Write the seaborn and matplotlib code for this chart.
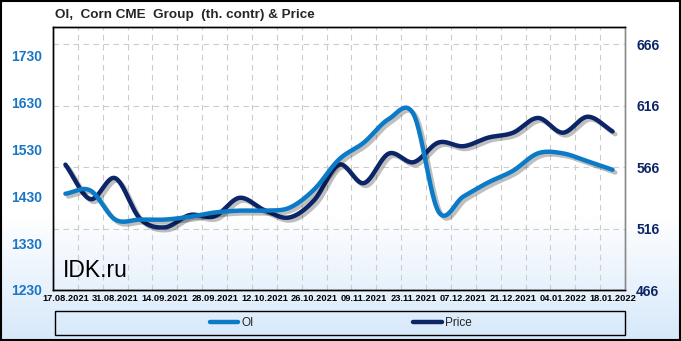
import numpy as np
import pandas as pd
import matplotlib
matplotlib.use("Agg")
import matplotlib.pyplot as plt
import matplotlib.patheffects as pe
from matplotlib.patches import Rectangle
from matplotlib.lines import Line2D
import seaborn as sns

# ---- data (weekly) ----
dates = ["17.08.2021", "24.08.2021", "31.08.2021", "07.09.2021", "14.09.2021", "21.09.2021",
         "28.09.2021", "05.10.2021", "12.10.2021", "19.10.2021", "26.10.2021", "02.11.2021",
         "09.11.2021", "16.11.2021", "23.11.2021", "30.11.2021", "07.12.2021", "14.12.2021",
         "21.12.2021", "28.12.2021", "04.01.2022", "11.01.2022", "18.01.2022"]
oi = [1435, 1442, 1380, 1380, 1380, 1386, 1395, 1399, 1399, 1405, 1444, 1508,
      1544, 1594, 1604, 1397, 1429, 1459, 1484, 1521, 1521, 1504, 1486]
price = [568, 540, 557, 524, 517, 527, 526, 541, 531, 525, 539, 568,
         553, 577, 570, 586, 583, 590, 594, 606, 594, 607, 595]
left_ticks = [1230, 1330, 1430, 1530, 1630, 1730]
right_ticks = [466, 516, 566, 616, 666]

OI_COLOR = "#0b7bc8"
PRICE_COLOR = "#0c2566"


def smooth(y, n=24):
    """Catmull-Rom rendering of a series (Excel-style smoothed line)."""
    y = np.asarray(y, float)
    p = np.concatenate([[2 * y[0] - y[1]], y, [2 * y[-1] - y[-2]]])
    xs, ys = [], []
    t = np.linspace(0, 1, n, endpoint=False)
    for i in range(len(y) - 1):
        p0, p1, p2, p3 = p[i], p[i + 1], p[i + 2], p[i + 3]
        seg = 0.5 * ((2 * p1) + (-p0 + p2) * t + (2 * p0 - 5 * p1 + 4 * p2 - p3) * t ** 2
                     + (-p0 + 3 * p1 - 3 * p2 + p3) * t ** 3)
        xs.append(i + t)
        ys.append(seg)
    xs.append([len(y) - 1])
    ys.append([y[-1]])
    return np.concatenate(xs), np.concatenate(ys)


sns.set_theme(style="white")
plt.rcParams["font.family"] = ["Liberation Sans", "DejaVu Sans"]

fig = plt.figure(figsize=(6.81, 3.41), dpi=100)

# background gradient
bg = fig.add_axes([0, 0, 1, 1], zorder=-10)
h = 341
grad = np.ones((h, 1, 3))
top = np.array([1.0, 1.0, 1.0])
bottom = np.array([214, 232, 250]) / 255.0
for r in range(h):
    if r < 215:
        grad[r, 0] = top
    else:
        f = (r - 215) / (h - 215)
        grad[r, 0] = top * (1 - f) + bottom * f
bg.imshow(grad, aspect="auto", extent=[0, 1, 0, 1])
bg.set_axis_off()

# host axes carries Price (right ticks) and the grid; twin carries OI (left ticks)
ax = fig.add_axes([53 / 681, 51 / 341, 572 / 681, 263 / 341])
ax.set_facecolor("none")
ax2 = ax.twinx()
ax.yaxis.tick_right()
ax2.yaxis.tick_left()

x_idx = np.arange(len(dates))
sx, sp = smooth(price)
sx2, so = smooth(oi)
df_p = pd.DataFrame({"x": sx, "Price": sp})
df_o = pd.DataFrame({"x": sx2, "OI": so})

shadow = [pe.SimpleLineShadow(offset=(2, -2), shadow_color="black", alpha=0.25), pe.Normal()]
sns.lineplot(data=df_p, x="x", y="Price", ax=ax, color=PRICE_COLOR, linewidth=3.2,
             legend=False, path_effects=shadow, sort=False)
sns.lineplot(data=df_o, x="x", y="OI", ax=ax2, color=OI_COLOR, linewidth=3.2,
             legend=False, path_effects=shadow, sort=False)

ax.set_xlim(-0.5, len(dates) - 0.5)
ax.set_ylim(466, 680)
ax2.set_ylim(1230, 1790)

ax.set_yticks(right_ticks)
ax.set_yticklabels([str(v) for v in right_ticks], color=PRICE_COLOR, fontsize=10,
                   fontweight="bold")
ax2.set_yticks(left_ticks)
ax2.set_yticklabels([str(v) for v in left_ticks], color="#1a75c4", fontsize=10,
                    fontweight="bold")
ax.set_xticks(x_idx[::2])
ax.set_xticklabels(dates[::2], fontsize=6.7, fontweight="bold", color="black")
ax.set_xticks(x_idx[:-1] + 0.5, minor=True)

ax.tick_params(axis="y", which="both", length=0, pad=8)
ax2.tick_params(axis="y", which="both", length=0, pad=8)
ax.tick_params(axis="x", which="both", length=0, pad=3)

ax.grid(False)
ax2.grid(False)
ax.yaxis.grid(True, color="#cccccc", linestyle=(0, (5, 4)), linewidth=0.8)
ax.xaxis.grid(True, which="minor", color="#cccccc", linestyle=(0, (5, 4)), linewidth=0.8)
ax.xaxis.grid(False, which="major")
ax.set_axisbelow(True)
ax.set_xlabel("")
ax.set_ylabel("")
ax2.set_ylabel("")

for a in (ax, ax2):
    for side in ("left", "top", "bottom"):
        a.spines[side].set_color("black")
        a.spines[side].set_linewidth(1.0)
    a.spines["right"].set_color("#8a8a8a")
    a.spines["right"].set_linewidth(1.0)

# watermark
ax.text(0.017, 0.075, "IDK.ru", transform=ax.transAxes, fontsize=16.5, color="black",
        ha="left", va="center", family=["Liberation Sans", "DejaVu Sans"])

# title
fig.text(55 / 681, 1 - 15 / 341, "OI,  Corn CME  Group  (th. contr) & Price", fontsize=9.7,
         fontweight="bold", ha="left", va="center")

# legend box + legend
fig.patches.append(Rectangle((55 / 681, 6 / 341), 570 / 681, 24 / 341, transform=fig.transFigure,
                             fill=False, edgecolor="black", linewidth=1.0))
handles = [Line2D([0], [0], color=OI_COLOR, lw=3.2, solid_capstyle="round"),
           Line2D([0], [0], color=PRICE_COLOR, lw=3.2, solid_capstyle="round")]
fig.legend(handles, ["OI", "Price"], loc="center", bbox_to_anchor=(341 / 681, 18 / 341),
           ncol=2, frameon=False, fontsize=8.5, handlelength=2.4, handletextpad=0.3,
           columnspacing=13.5)

# outer border
fig.patches.append(Rectangle((0.001, 0.002), 0.997, 0.995, transform=fig.transFigure,
                             fill=False, edgecolor="black", linewidth=1.5))

fig.savefig("out.png", dpi=100)
